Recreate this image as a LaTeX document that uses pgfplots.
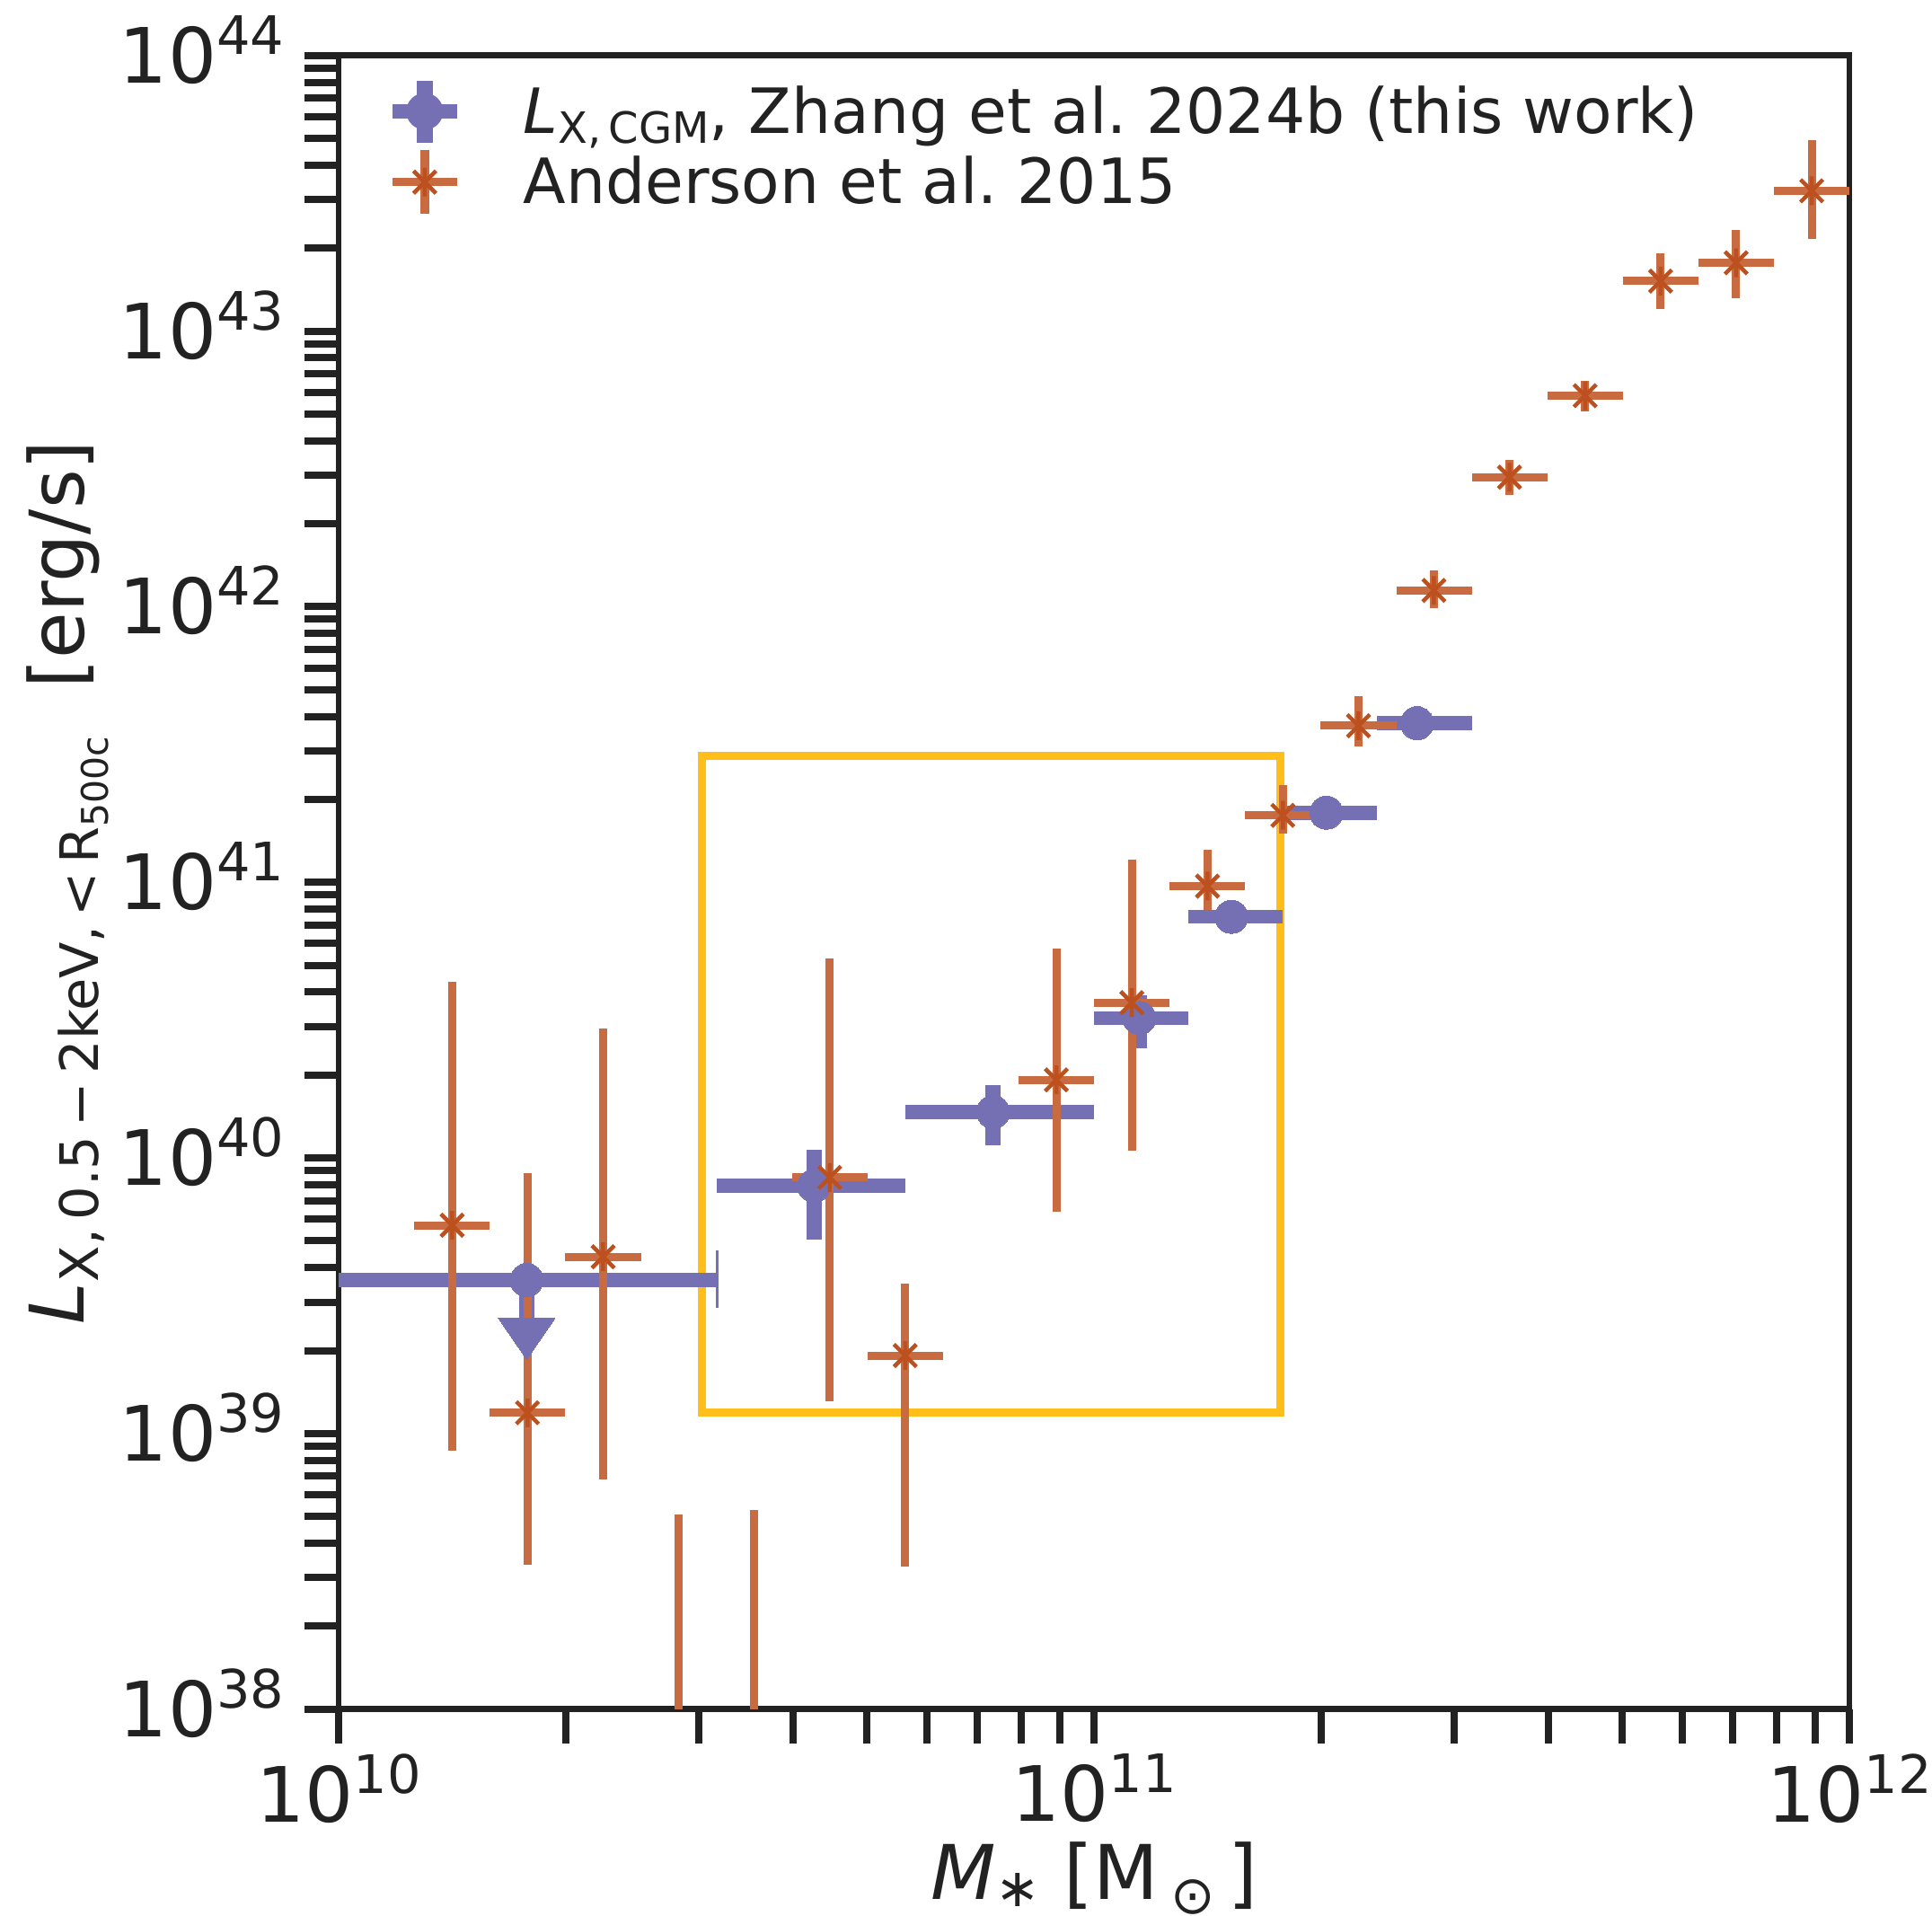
\documentclass[border=0pt]{standalone}
\usepackage{fontspec}
\setmainfont{DejaVu Sans}
\usepackage{pgfplots}
\usepackage{pgfplotstable}
\pgfplotsset{compat=1.18}
\frenchspacing

\definecolor{purp}{RGB}{117,112,179}
\definecolor{orng}{RGB}{201,107,64}
\definecolor{orngd}{RGB}{188,80,30}
\definecolor{yel}{RGB}{255,190,25}
\definecolor{txt}{RGB}{34,34,34}

\newcommand\tl[1]{10\raisebox{3.2pt}{\fontsize{5.9pt}{6pt}\selectfont #1}}

\pgfdeclareplotmark{ast8}{%
  \pgfpathmoveto{\pgfqpoint{0pt}{-\pgfplotmarksize}}%
  \pgfpathlineto{\pgfqpoint{0pt}{\pgfplotmarksize}}%
  \pgfpathmoveto{\pgfqpoint{-0.78\pgfplotmarksize}{-0.78\pgfplotmarksize}}%
  \pgfpathlineto{\pgfqpoint{0.78\pgfplotmarksize}{0.78\pgfplotmarksize}}%
  \pgfpathmoveto{\pgfqpoint{-0.78\pgfplotmarksize}{0.78\pgfplotmarksize}}%
  \pgfpathlineto{\pgfqpoint{0.78\pgfplotmarksize}{-0.78\pgfplotmarksize}}%
  \pgfusepathqstroke}

% Zhang et al. 2024b: x, y, x error minus/plus, y error minus/plus
\pgfplotstableread{
x y exm exp eym eyp
1.774e10 3.61e39 0.774e10 1.388e10 0.99e39 0
4.26e10 7.94e39 1.098e10 1.363e10 2.88e39 2.76e39
7.35e10 1.47e40 1.727e10 2.65e10 0.36e40 0.37e40
1.148e11 3.22e40 0.148e11 0.186e11 0.72e40 0.66e40
1.52e11 7.50e40 0.186e11 0.258e11 0.5e40 0.5e40
2.03e11 1.79e41 0.252e11 0.341e11 0.08e41 0.08e41
2.677e11 3.78e41 0.306e11 0.485e11 0.15e41 0.15e41
}\zhang

% Anderson et al. 2015
\pgfplotstableread{
x y exm exp eym eyp
1.413e10 5.7e39 0.154e10 0.172e10 4.833e39 3.8e40
1.778e10 1.19e39 0.193e10 0.217e10 8.56e38 7.62e39
2.239e10 4.38e39 0.244e10 0.273e10 3.698e39 2.502e40
2.818e10 3e37 0.306e10 0.344e10 2e37 4.78e38
3.548e10 3e37 0.386e10 0.433e10 2e37 5.0e38
4.467e10 8.5e39 0.486e10 0.545e10 7.19e39 4.45e40
5.623e10 1.92e39 0.611e10 0.687e10 1.59e39 1.58e39
8.913e10 1.92e40 0.970e10 1.087e10 1.283e40 3.82e40
1.122e11 3.66e40 0.122e11 0.137e11 2.596e40 8.44e40
1.413e11 9.69e40 0.154e11 0.172e11 1.75e40 3.41e40
1.778e11 1.75e41 0.193e11 0.217e11 0.245e41 0.5e41
2.239e11 3.70e41 0.244e11 0.273e11 0.58e41 1.05e41
2.818e11 1.146e42 0.306e11 0.344e11 1.56e41 2.04e41
3.548e11 2.95e42 0.386e11 0.433e11 0.41e42 0.46e42
4.467e11 5.83e42 0.486e11 0.545e11 0.71e42 0.79e42
5.623e11 1.519e43 0.611e11 0.687e11 0.312e43 0.391e43
7.079e11 1.77e43 0.770e11 0.864e11 0.452e43 0.56e43
8.913e11 3.23e43 0.970e11 1.087e11 1.07e43 1.69e43
}\anderson

\begin{document}
\begin{tikzpicture}
\begin{axis}[
  name=ax,
  xmode=log, ymode=log,
  width=168.2pt, height=184.1pt, scale only axis,
  xmin=1e10, xmax=1e12, ymin=1e38, ymax=1e44,
  axis line style={line width=0.67pt, draw=txt},
  tick pos=left, tick align=outside,
  major tick length=3.8pt, minor tick length=3.8pt,
  major tick style={line width=0.8pt, draw=txt},
  minor tick style={line width=0.8pt, draw=txt},
  xtick={1e10,1e11,1e12},
  xticklabels={\tl{10},\tl{11},\tl{12}},
  ytick={1e38,1e39,1e40,1e41,1e42,1e43,1e44},
  yticklabels={\tl{38},\tl{39},\tl{40},\tl{41},\tl{42},\tl{43},\tl{44}},
  minor xtick={2e10,3e10,4e10,5e10,6e10,7e10,8e10,9e10,2e11,3e11,4e11,5e11,6e11,7e11,8e11,9e11},
  minor ytick={2e38,3e38,4e38,5e38,6e38,7e38,8e38,9e38,
               2e39,3e39,4e39,5e39,6e39,7e39,8e39,9e39,
               2e40,3e40,4e40,5e40,6e40,7e40,8e40,9e40,
               2e41,3e41,4e41,5e41,6e41,7e41,8e41,9e41,
               2e42,3e42,4e42,5e42,6e42,7e42,8e42,9e42,
               2e43,3e43,4e43,5e43,6e43,7e43,8e43,9e43},
  xticklabel style={font=\fontsize{8.5pt}{9pt}\selectfont, text=txt, anchor=north, inner sep=0pt, yshift=-1.0pt},
  yticklabel style={font=\fontsize{8.5pt}{9pt}\selectfont, text=txt, anchor=base east, inner sep=0pt, yshift=-3.05pt, xshift=-2.1pt},
  xlabel={\textit{M}\raisebox{-0.8pt}{\fontsize{5.9pt}{6pt}\selectfont ∗}\ [M\,\raisebox{-1.6pt}{\fontsize{5.9pt}{6pt}\selectfont ⊙}\,]},
  ylabel={\textit{L}\raisebox{-1.6pt}{\fontsize{5.9pt}{6pt}\selectfont X,\,0.5\,−\,2keV,\,<\,R\raisebox{-1.1pt}{\fontsize{4.1pt}{4pt}\selectfont 500c}}\ \ [erg/s]},
  label style={font=\fontsize{8.4pt}{9pt}\selectfont, text=txt, inner sep=0pt},
  xlabel style={at={(axis description cs:0.5,-0.1152)}, anchor=base},
  ylabel style={at={(axis description cs:-0.1688,0.5)}, anchor=base, rotate=0},
  legend style={at={(axis description cs:0.0309,0.9897)}, anchor=north west,
    draw=none, fill=none, inner sep=0pt, outer sep=0pt, row sep=-0.5pt,
    column sep=6.6pt,
    font=\fontsize{6.95pt}{8pt}\selectfont, text=txt,
    nodes={inner sep=0pt, text height=6.2pt, text depth=1.4pt}},
  legend cell align=left,
]
\addlegendimage{legend image code/.code={
  \draw[purp, line width=1.56pt] (0pt,0pt) -- (7.2pt,0pt);
  \draw[purp, line width=1.75pt] (3.6pt,-3.45pt) -- (3.6pt,3.45pt);
  \fill[purp] (3.6pt,0pt) circle (1.85pt);}}
\addlegendentry{\textit{L}\raisebox{-1.2pt}{\fontsize{4.8pt}{5pt}\selectfont X,\,CGM}, Zhang et al. 2024b (this work)}
\addlegendimage{legend image code/.code={
  \draw[orng, line width=0.9pt] (0pt,0pt) -- (7.2pt,0pt);
  \draw[orng, line width=1pt] (3.6pt,-3.55pt) -- (3.6pt,3.55pt);
  \draw[orngd, line width=0.45pt] (2.35pt,-1.25pt) -- (4.85pt,1.25pt) (2.35pt,1.25pt) -- (4.85pt,-1.25pt) (3.6pt,-1.6pt) -- (3.6pt,1.6pt);}}
\addlegendentry{Anderson et al. 2015}

% highlighted region
\addplot[yel, line width=0.9pt, line cap=rect, line join=miter, mark=none, forget plot]
  coordinates {(3.03e10,1.19e39) (1.766e11,1.19e39) (1.766e11,2.87e41) (3.03e10,2.87e41) (3.03e10,1.19e39)};

% Zhang: vertical error bars
\addplot[draw=none, mark=none, forget plot,
  error bars/.cd, y dir=both, y explicit, error mark=none,
  error bar style={draw=purp, solid, line width=1.75pt}]
  table[x=x, y=y, y error minus=eym, y error plus=eyp] {\zhang};
% Zhang: horizontal error bars + points
\addplot[purp, only marks, mark=*, mark size=1.85pt, mark options={draw=purp, fill=purp, line width=0pt}, forget plot,
  error bars/.cd, x dir=both, x explicit, error mark=none,
  error bar style={draw=purp, solid, line width=1.56pt}]
  table[x=x, y=y, x error minus=exm, x error plus=exp] {\zhang};
% thin end line of the first bin
\addplot[purp, line width=0.25pt, mark=none, forget plot]
  coordinates {(3.17e10,2.86e39) (3.17e10,4.61e39)};
% upper-limit arrow head
\addplot[purp, only marks, mark=triangle*, mark size=3.64pt,
  mark options={rotate=180, yscale=0.84, draw=purp, fill=purp, line width=0pt}, forget plot]
  coordinates {(1.774e10,2.34e39)};

% Anderson
\addplot[orng, only marks, mark=ast8, mark size=1.6pt, mark options={draw=orngd, line width=0.45pt}, forget plot,
  error bars/.cd, x dir=both, y dir=both, x explicit, y explicit, error mark=none,
  error bar style={draw=orng, solid, line width=0.9pt}]
  table[x=x, y=y, x error minus=exm, x error plus=exp, y error minus=eym, y error plus=eyp] {\anderson};
\end{axis}
\path ([xshift=-37.7pt,yshift=-23pt]ax.south west) rectangle ([xshift=9.2pt,yshift=6.2pt]ax.north east);
\end{tikzpicture}
\end{document}
